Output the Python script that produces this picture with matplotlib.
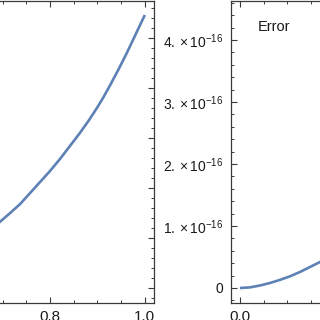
import matplotlib
matplotlib.use('Agg')
import matplotlib.pyplot as plt
from matplotlib.ticker import MultipleLocator, FixedLocator, FuncFormatter

plt.rcParams['font.family'] = ['Liberation Sans', 'DejaVu Sans']
plt.rcParams['mathtext.fontset'] = 'custom'
plt.rcParams['mathtext.rm'] = 'Liberation Sans'
plt.rcParams['mathtext.it'] = 'Liberation Sans:italic'
plt.rcParams['mathtext.bf'] = 'Liberation Sans:bold'

# left panel: solution (only the right part is visible)
sol_x = [0.68, 0.694, 0.716, 0.737, 0.758, 0.779, 0.800, 0.821, 0.842, 0.863,
         0.881, 0.899, 0.913, 0.927, 0.945, 0.962, 0.981, 1.0]
sol_y = [0.60, 0.66, 0.75, 0.84, 0.95, 1.06, 1.17, 1.29, 1.42, 1.55,
         1.67, 1.80, 1.91, 2.03, 2.19, 2.35, 2.54, 2.73]

# right panel: error (only the start is visible)
err_x = [0.0, 0.021, 0.042, 0.063, 0.084, 0.106, 0.127, 0.148, 0.169, 0.19]
err_y = [0.0, 0.01e-16, 0.04e-16, 0.08e-16, 0.13e-16, 0.19e-16, 0.26e-16,
         0.34e-16, 0.42e-16, 0.52e-16]

err_ticks = [0, 1e-16, 2e-16, 3e-16, 4e-16]
err_labels = ['0', r'$1.\times10^{-16}$', r'$2.\times10^{-16}$',
              r'$3.\times10^{-16}$', r'$4.\times10^{-16}$']

line_col = '#5e81b5'
frame_col = '#3a3a3a'

fig = plt.figure(figsize=(3.2, 3.2), dpi=100)
W = 320.0
ax1 = fig.add_axes([-338.7 / W, 17 / W, 493 / W, 302 / W])
ax2 = fig.add_axes([230.5 / W, 17 / W, 493 / W, 302 / W])

ax1.plot(sol_x, sol_y, color=line_col, lw=1.9, solid_capstyle='butt')
ax1.set_xlim(-0.02, 1.02)
ax1.set_ylim(-0.15, 2.87)
ax1.yaxis.set_major_locator(MultipleLocator(0.5))
ax1.yaxis.set_minor_locator(MultipleLocator(0.1))

ax2.plot(err_x, err_y, color=line_col, lw=1.9, solid_capstyle='butt')
ax2.set_xlim(-0.02, 1.02)
ax2.set_ylim(-0.242e-16, 4.629e-16)
ax2.yaxis.set_major_locator(FixedLocator(err_ticks))
ax2.set_yticklabels(err_labels)
ax2.yaxis.set_minor_locator(MultipleLocator(0.2e-16))
ax2.text(0.038, 4.21e-16, 'Error', va='center', ha='left', fontsize=10.5, color='#1a1a1a')

for ax in (ax1, ax2):
    ax.xaxis.set_major_locator(MultipleLocator(0.2))
    ax.xaxis.set_minor_locator(MultipleLocator(0.05))
    ax.xaxis.set_major_formatter(FuncFormatter(lambda v, p: '%.1f' % v))
    ax.tick_params(which='both', direction='in', top=True, right=True,
                   color=frame_col, labelcolor='#1a1a1a')
    ax.tick_params(axis='x', labelsize=11)
    ax.tick_params(axis='y', labelsize=10)
    ax.tick_params(which='major', length=4.2, width=0.8, pad=5)
    ax.tick_params(which='minor', length=2.4, width=0.7)
    for s in ax.spines.values():
        s.set_color(frame_col)
        s.set_linewidth(0.9)

fig.savefig('out.png', dpi=100)
